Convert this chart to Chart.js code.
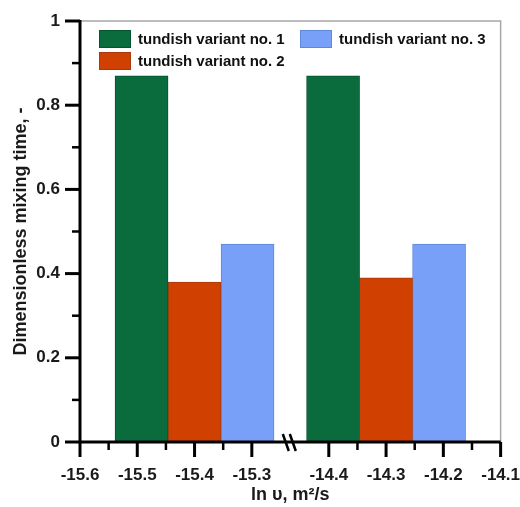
<!DOCTYPE html>
<html>
<head>
<meta charset="utf-8">
<script src="https://cdn.jsdelivr.net/npm/chart.js@4/dist/chart.umd.min.js"></script>
<style>
  html, body { margin: 0; padding: 0; background: #fff; }
  #wrap { width: 520px; height: 507px; }
</style>
</head>
<body>
<div id="wrap"><canvas id="chart"></canvas></div>
<script>
// ln(nu) group centres and bar heights per tundish variant
const groupCenters = [-15.4, -14.3];
const seriesLabels = ["tundish variant no. 1", "tundish variant no. 2", "tundish variant no. 3"];
const variant1 = [0.87, 0.87];
const variant2 = [0.38, 0.39];
const variant3 = [0.47, 0.47];

const xTicks = [-15.6, -15.5, -15.4, -15.3, -14.4, -14.3, -14.2, -14.1];
const xMinorTicks = [-15.55, -15.45, -15.35, -14.35, -14.25, -14.15];
const yTicks = [0, 0.2, 0.4, 0.6, 0.8, 1];
const yMinorTicks = [0.1, 0.3, 0.5, 0.7, 0.9];

const COLORS = ["#0a6b3c", "#d04000", "#78a0f8"];
const BORDERS = ["#06542e", "#a83a10", "#5f88d8"];
const FONT = "'Liberation Sans', Arial, sans-serif";

// broken x axis: left part starts at -15.6, right part at -14.4
const LEFT_START = -15.6, RIGHT_START = -14.4;
const RIGHT_OFFSET = 4.344, BREAK_POS = 3.663;
function toPos(v) {
  return v < -15 ? (v - LEFT_START) * 10 : (v - RIGHT_START) * 10 + RIGHT_OFFSET;
}

const seriesValues = [variant1, variant2, variant3];

const axesPlugin = {
  id: "axesPlugin",
  afterDraw(chart) {
    const { ctx, chartArea: a, scales: { x, y } } = chart;
    ctx.save();

    // thin grey frame top/right
    ctx.strokeStyle = "#a8a8a8";
    ctx.lineWidth = 1.5;
    ctx.beginPath();
    ctx.moveTo(a.left, a.top);
    ctx.lineTo(a.right, a.top);
    ctx.lineTo(a.right, a.bottom);
    ctx.stroke();

    ctx.strokeStyle = "#000";
    ctx.lineCap = "butt";

    // left axis
    ctx.lineWidth = 3;
    ctx.beginPath();
    ctx.moveTo(a.left, a.top - 1);
    ctx.lineTo(a.left, a.bottom + 1.5);
    ctx.stroke();
    yTicks.forEach(v => {
      const py = y.getPixelForValue(v);
      ctx.beginPath(); ctx.moveTo(a.left - 15, py); ctx.lineTo(a.left, py); ctx.stroke();
    });
    ctx.lineWidth = 2.5;
    yMinorTicks.forEach(v => {
      const py = y.getPixelForValue(v);
      ctx.beginPath(); ctx.moveTo(a.left - 8, py); ctx.lineTo(a.left, py); ctx.stroke();
    });

    // bottom axis
    ctx.lineWidth = 3;
    ctx.beginPath();
    ctx.moveTo(a.left, a.bottom);
    ctx.lineTo(a.right, a.bottom);
    ctx.stroke();
    xTicks.forEach(v => {
      const px = x.getPixelForValue(toPos(v));
      ctx.beginPath(); ctx.moveTo(px, a.bottom); ctx.lineTo(px, a.bottom + 15); ctx.stroke();
    });
    ctx.lineWidth = 2.5;
    xMinorTicks.forEach(v => {
      const px = x.getPixelForValue(toPos(v));
      ctx.beginPath(); ctx.moveTo(px, a.bottom); ctx.lineTo(px, a.bottom + 8); ctx.stroke();
    });

    // axis break marks
    const bx = x.getPixelForValue(BREAK_POS);
    ctx.lineWidth = 2.5;
    [-4, 3].forEach(dx => {
      ctx.beginPath();
      ctx.moveTo(bx + dx - 3, a.bottom - 8);
      ctx.lineTo(bx + dx + 3, a.bottom + 9);
      ctx.stroke();
    });

    // legend inside plot
    const items = [
      { i: 0, x: a.left + 19, y: a.top + 9 },
      { i: 1, x: a.left + 19, y: a.top + 31 },
      { i: 2, x: a.left + 220, y: a.top + 9 },
    ];
    ctx.font = "bold 15px " + FONT;
    ctx.textBaseline = "middle";
    ctx.textAlign = "left";
    items.forEach(it => {
      ctx.fillStyle = COLORS[it.i];
      ctx.fillRect(it.x, it.y, 32, 18);
      ctx.strokeStyle = BORDERS[it.i];
      ctx.lineWidth = 1;
      ctx.strokeRect(it.x + 0.5, it.y + 0.5, 31, 17);
      ctx.fillStyle = "#111";
      ctx.fillText(seriesLabels[it.i], it.x + 39, it.y + 9.5);
    });

    ctx.restore();
  },
};

new Chart(document.getElementById("chart"), {
  type: "bar",
  data: {
    datasets: seriesValues.map((vals, k) => ({
      label: seriesLabels[k],
      data: groupCenters.map((c, i) => ({ x: toPos(c), y: vals[i] })),
      backgroundColor: COLORS[k],
      borderColor: BORDERS[k],
      borderWidth: 1,
      barThickness: 53,
    })),
  },
  options: {
    responsive: true,
    maintainAspectRatio: false,
    animation: false,
    layout: { padding: { top: 21, right: 19, left: 0, bottom: 0 } },
    plugins: {
      legend: { display: false },
      tooltip: { enabled: false },
    },
    scales: {
      x: {
        type: "linear",
        offset: false,
        min: 0,
        max: toPos(-14.1),
        afterBuildTicks: s => { s.ticks = xTicks.map(v => ({ value: toPos(v) })); },
        afterFit: s => { s.height = 65; },
        // grid hidden; tickLength only reserves room above the labels
        grid: { display: false, drawTicks: true, tickLength: 23, offset: false },
        border: { display: false },
        ticks: {
          autoSkip: false,
          maxRotation: 0,
          padding: 0,
          color: "#1a1a1a",
          font: { family: FONT, size: 17, weight: "bold" },
          callback: (v, i) => xTicks[i].toFixed(1),
        },
        title: {
          display: true,
          text: "ln \u03c5, m\u00b2/s",
          color: "#1a1a1a",
          font: { family: FONT, size: 18, weight: "bold" },
          padding: { top: 0, bottom: 1 },
        },
      },
      y: {
        min: 0,
        max: 1,
        afterBuildTicks: s => { s.ticks = yTicks.map(v => ({ value: v })); },
        afterFit: s => { s.width = 80; },
        grid: { display: false, drawTicks: true, tickLength: 20 },
        border: { display: false },
        ticks: {
          padding: 0,
          color: "#1a1a1a",
          font: { family: FONT, size: 17, weight: "bold" },
          callback: v => (v === 0 || v === 1) ? String(v) : v.toFixed(1),
        },
        title: {
          display: true,
          text: "Dimensionless mixing time, -",
          color: "#1a1a1a",
          font: { family: FONT, size: 18, weight: "bold" },
          padding: { top: 10, bottom: 0 },
        },
      },
    },
  },
  plugins: [axesPlugin],
});
</script>
</body>
</html>
